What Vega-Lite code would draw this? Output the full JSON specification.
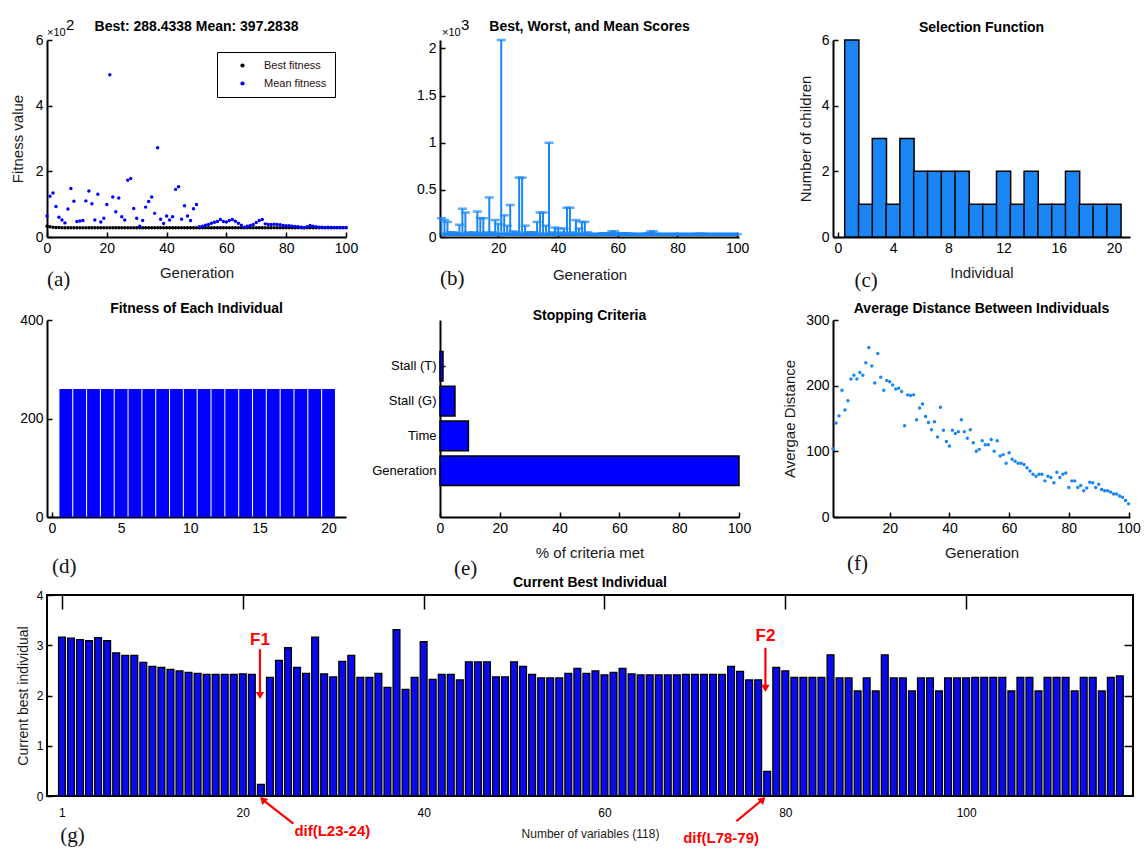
{
  "$schema": "https://vega.github.io/schema/vega-lite/v6.json",
  "background": "white",
  "padding": {"left": 10, "top": 18, "right": 5, "bottom": 2},
  "config": {
    "font": "Liberation Sans",
    "view": {"stroke": null},
    "axis": {"grid": false, "domainColor": "black", "domainWidth": 2, "tickColor": "black", "tickWidth": 1.5, "tickSize": -5, "labelColor": "black", "labelFontSize": 14, "labelPadding": 9, "titleColor": "#1a1a1a", "titleFontSize": 15, "titleFontWeight": "normal", "labelFlush": false, "labelOverlap": false},
    "title": {"fontSize": 14, "fontWeight": "bold", "color": "black", "offset": 7}
  },
  "datasets": {
    "fitness": [
      {"gen":0,"best":0.33,"mean":0.64},{"gen":1,"best":0.31,"mean":1.24},{"gen":2,"best":0.30,"mean":1.34},{"gen":3,"best":0.29,"mean":0.93},{"gen":4,"best":0.29,"mean":0.60},{"gen":5,"best":0.28,"mean":0.52},{"gen":6,"best":0.28,"mean":0.43},{"gen":7,"best":0.28,"mean":0.85},{"gen":8,"best":0.28,"mean":1.48},{"gen":9,"best":0.28,"mean":1.09},
      {"gen":10,"best":0.28,"mean":0.47},{"gen":11,"best":0.28,"mean":0.49},{"gen":12,"best":0.28,"mean":0.50},{"gen":13,"best":0.28,"mean":1.10},{"gen":14,"best":0.28,"mean":1.40},{"gen":15,"best":0.28,"mean":1.01},{"gen":16,"best":0.28,"mean":0.52},{"gen":17,"best":0.28,"mean":1.30},{"gen":18,"best":0.28,"mean":0.46},{"gen":19,"best":0.28,"mean":0.57},
      {"gen":20,"best":0.28,"mean":0.99},{"gen":21,"best":0.28,"mean":4.94},{"gen":22,"best":0.28,"mean":1.22},{"gen":23,"best":0.28,"mean":0.77},{"gen":24,"best":0.28,"mean":1.19},{"gen":25,"best":0.28,"mean":0.62},{"gen":26,"best":0.28,"mean":0.52},{"gen":27,"best":0.28,"mean":1.73},{"gen":28,"best":0.28,"mean":1.78},{"gen":29,"best":0.28,"mean":0.87},
      {"gen":30,"best":0.28,"mean":0.57},{"gen":31,"best":0.28,"mean":0.33},{"gen":32,"best":0.28,"mean":0.50},{"gen":33,"best":0.28,"mean":0.91},{"gen":34,"best":0.28,"mean":1.08},{"gen":35,"best":0.28,"mean":1.22},{"gen":36,"best":0.28,"mean":0.72},{"gen":37,"best":0.28,"mean":2.72},{"gen":38,"best":0.28,"mean":0.54},{"gen":39,"best":0.28,"mean":0.41},
      {"gen":40,"best":0.28,"mean":0.64},{"gen":41,"best":0.28,"mean":0.52},{"gen":42,"best":0.28,"mean":0.62},{"gen":43,"best":0.28,"mean":1.45},{"gen":44,"best":0.28,"mean":1.53},{"gen":45,"best":0.28,"mean":0.54},{"gen":46,"best":0.28,"mean":0.95},{"gen":47,"best":0.28,"mean":0.64},{"gen":48,"best":0.28,"mean":0.50},{"gen":49,"best":0.28,"mean":0.86},
      {"gen":50,"best":0.28,"mean":0.99},{"gen":51,"best":0.28,"mean":0.31},{"gen":52,"best":0.28,"mean":0.33},{"gen":53,"best":0.28,"mean":0.36},{"gen":54,"best":0.28,"mean":0.38},{"gen":55,"best":0.28,"mean":0.42},{"gen":56,"best":0.28,"mean":0.45},{"gen":57,"best":0.28,"mean":0.47},{"gen":58,"best":0.28,"mean":0.53},{"gen":59,"best":0.28,"mean":0.47},
      {"gen":60,"best":0.28,"mean":0.46},{"gen":61,"best":0.28,"mean":0.50},{"gen":62,"best":0.28,"mean":0.53},{"gen":63,"best":0.28,"mean":0.48},{"gen":64,"best":0.28,"mean":0.42},{"gen":65,"best":0.28,"mean":0.36},{"gen":66,"best":0.28,"mean":0.30},{"gen":67,"best":0.28,"mean":0.33},{"gen":68,"best":0.28,"mean":0.35},{"gen":69,"best":0.28,"mean":0.38},
      {"gen":70,"best":0.28,"mean":0.44},{"gen":71,"best":0.28,"mean":0.50},{"gen":72,"best":0.28,"mean":0.53},{"gen":73,"best":0.28,"mean":0.40},{"gen":74,"best":0.28,"mean":0.38},{"gen":75,"best":0.28,"mean":0.38},{"gen":76,"best":0.28,"mean":0.39},{"gen":77,"best":0.28,"mean":0.38},{"gen":78,"best":0.28,"mean":0.37},{"gen":79,"best":0.28,"mean":0.35},
      {"gen":80,"best":0.28,"mean":0.34},{"gen":81,"best":0.28,"mean":0.34},{"gen":82,"best":0.28,"mean":0.33},{"gen":83,"best":0.28,"mean":0.32},{"gen":84,"best":0.28,"mean":0.31},{"gen":85,"best":0.28,"mean":0.30},{"gen":86,"best":0.28,"mean":0.28},{"gen":87,"best":0.28,"mean":0.31},{"gen":88,"best":0.28,"mean":0.35},{"gen":89,"best":0.28,"mean":0.33},
      {"gen":90,"best":0.28,"mean":0.31},{"gen":91,"best":0.28,"mean":0.30},{"gen":92,"best":0.28,"mean":0.30},{"gen":93,"best":0.28,"mean":0.29},{"gen":94,"best":0.28,"mean":0.30},{"gen":95,"best":0.28,"mean":0.29},{"gen":96,"best":0.28,"mean":0.29},{"gen":97,"best":0.28,"mean":0.29},{"gen":98,"best":0.28,"mean":0.29},{"gen":99,"best":0.28,"mean":0.29},{"gen":100,"best":0.28,"mean":0.29}
    ],
    "scores": [
      {"gen":1,"best":0.029,"worst":0.20},{"gen":2,"best":0.029,"worst":0.18},{"gen":3,"best":0.029,"worst":0.16},{"gen":4,"best":0.029,"worst":0.05},{"gen":5,"best":0.029,"worst":0.05},{"gen":6,"best":0.029,"worst":0.04},{"gen":7,"best":0.029,"worst":0.13},{"gen":8,"best":0.029,"worst":0.30},{"gen":9,"best":0.029,"worst":0.26},{"gen":10,"best":0.029,"worst":0.05},
      {"gen":11,"best":0.029,"worst":0.03},{"gen":12,"best":0.029,"worst":0.05},{"gen":13,"best":0.029,"worst":0.27},{"gen":14,"best":0.029,"worst":0.20},{"gen":15,"best":0.029,"worst":0.20},{"gen":16,"best":0.029,"worst":0.05},{"gen":17,"best":0.029,"worst":0.42},{"gen":18,"best":0.029,"worst":0.05},{"gen":19,"best":0.029,"worst":0.18},{"gen":20,"best":0.029,"worst":0.14},
      {"gen":21,"best":0.029,"worst":2.09},{"gen":22,"best":0.029,"worst":0.23},{"gen":23,"best":0.029,"worst":0.12},{"gen":24,"best":0.029,"worst":0.34},{"gen":25,"best":0.029,"worst":0.06},{"gen":26,"best":0.029,"worst":0.05},{"gen":27,"best":0.029,"worst":0.63},{"gen":28,"best":0.029,"worst":0.63},{"gen":29,"best":0.029,"worst":0.12},{"gen":30,"best":0.029,"worst":0.05},
      {"gen":31,"best":0.029,"worst":0.05},{"gen":32,"best":0.029,"worst":0.05},{"gen":33,"best":0.029,"worst":0.16},{"gen":34,"best":0.029,"worst":0.26},{"gen":35,"best":0.029,"worst":0.26},{"gen":36,"best":0.029,"worst":0.12},{"gen":37,"best":0.029,"worst":1.00},{"gen":38,"best":0.029,"worst":0.05},{"gen":39,"best":0.029,"worst":0.10},{"gen":40,"best":0.029,"worst":0.09},
      {"gen":41,"best":0.029,"worst":0.05},{"gen":42,"best":0.029,"worst":0.09},{"gen":43,"best":0.029,"worst":0.31},{"gen":44,"best":0.029,"worst":0.31},{"gen":45,"best":0.029,"worst":0.05},{"gen":46,"best":0.029,"worst":0.18},{"gen":47,"best":0.029,"worst":0.09},{"gen":48,"best":0.029,"worst":0.16},{"gen":49,"best":0.029,"worst":0.16},{"gen":50,"best":0.029,"worst":0.05},
      {"gen":51,"best":0.029,"worst":0.03},{"gen":52,"best":0.029,"worst":0.03},{"gen":53,"best":0.029,"worst":0.03},{"gen":54,"best":0.029,"worst":0.03},{"gen":55,"best":0.029,"worst":0.04},{"gen":56,"best":0.029,"worst":0.04},{"gen":57,"best":0.029,"worst":0.04},{"gen":58,"best":0.029,"worst":0.06},{"gen":59,"best":0.029,"worst":0.06},{"gen":60,"best":0.029,"worst":0.04},
      {"gen":61,"best":0.029,"worst":0.035},{"gen":62,"best":0.029,"worst":0.04},{"gen":63,"best":0.029,"worst":0.04},{"gen":64,"best":0.029,"worst":0.035},{"gen":65,"best":0.029,"worst":0.03},{"gen":66,"best":0.029,"worst":0.03},{"gen":67,"best":0.029,"worst":0.03},{"gen":68,"best":0.029,"worst":0.03},{"gen":69,"best":0.029,"worst":0.03},{"gen":70,"best":0.029,"worst":0.04},
      {"gen":71,"best":0.029,"worst":0.06},{"gen":72,"best":0.029,"worst":0.06},{"gen":73,"best":0.029,"worst":0.03},{"gen":74,"best":0.029,"worst":0.03},{"gen":75,"best":0.029,"worst":0.03},{"gen":76,"best":0.029,"worst":0.03},{"gen":77,"best":0.029,"worst":0.03},{"gen":78,"best":0.029,"worst":0.03},{"gen":79,"best":0.029,"worst":0.03},{"gen":80,"best":0.029,"worst":0.03},
      {"gen":81,"best":0.029,"worst":0.03},{"gen":82,"best":0.029,"worst":0.03},{"gen":83,"best":0.029,"worst":0.03},{"gen":84,"best":0.029,"worst":0.03},{"gen":85,"best":0.029,"worst":0.03},{"gen":86,"best":0.029,"worst":0.03},{"gen":87,"best":0.029,"worst":0.035},{"gen":88,"best":0.029,"worst":0.035},{"gen":89,"best":0.029,"worst":0.03},{"gen":90,"best":0.029,"worst":0.03},
      {"gen":91,"best":0.029,"worst":0.03},{"gen":92,"best":0.029,"worst":0.03},{"gen":93,"best":0.029,"worst":0.03},{"gen":94,"best":0.029,"worst":0.03},{"gen":95,"best":0.029,"worst":0.03},{"gen":96,"best":0.029,"worst":0.03},{"gen":97,"best":0.029,"worst":0.03},{"gen":98,"best":0.029,"worst":0.03},{"gen":99,"best":0.029,"worst":0.03},{"gen":100,"best":0.029,"worst":0.03}
    ],
    "selection": [
      {"individual":1,"children":6},{"individual":2,"children":1},{"individual":3,"children":3},{"individual":4,"children":1},{"individual":5,"children":3},{"individual":6,"children":2},{"individual":7,"children":2},{"individual":8,"children":2},{"individual":9,"children":2},{"individual":10,"children":1},
      {"individual":11,"children":1},{"individual":12,"children":2},{"individual":13,"children":1},{"individual":14,"children":2},{"individual":15,"children":1},{"individual":16,"children":1},{"individual":17,"children":2},{"individual":18,"children":1},{"individual":19,"children":1},{"individual":20,"children":1}
    ],
    "eachfit": [
      {"individual":1,"fitness":260},{"individual":2,"fitness":260},{"individual":3,"fitness":260},{"individual":4,"fitness":260},{"individual":5,"fitness":260},{"individual":6,"fitness":260},{"individual":7,"fitness":260},{"individual":8,"fitness":260},{"individual":9,"fitness":260},{"individual":10,"fitness":260},
      {"individual":11,"fitness":260},{"individual":12,"fitness":260},{"individual":13,"fitness":260},{"individual":14,"fitness":260},{"individual":15,"fitness":260},{"individual":16,"fitness":260},{"individual":17,"fitness":260},{"individual":18,"fitness":260},{"individual":19,"fitness":260},{"individual":20,"fitness":260}
    ],
    "stopping": [
      {"criterion":"Stall (T)","pct":1},{"criterion":"Stall (G)","pct":5},{"criterion":"Time","pct":9.5},{"criterion":"Generation","pct":100}
    ],
    "distance": [
      {"gen":1,"d":104},{"gen":2,"d":143},{"gen":3,"d":154},{"gen":4,"d":193},{"gen":5,"d":163},{"gen":6,"d":177},{"gen":7,"d":210},{"gen":8,"d":216},{"gen":9,"d":210},{"gen":10,"d":220},
      {"gen":11,"d":216},{"gen":12,"d":235},{"gen":13,"d":258},{"gen":14,"d":230},{"gen":15,"d":204},{"gen":16,"d":249},{"gen":17,"d":213},{"gen":18,"d":193},{"gen":19,"d":208},{"gen":20,"d":206},
      {"gen":21,"d":201},{"gen":22,"d":195},{"gen":23,"d":196},{"gen":24,"d":191},{"gen":25,"d":139},{"gen":26,"d":186},{"gen":27,"d":185},{"gen":28,"d":186},{"gen":29,"d":148},{"gen":30,"d":166},
      {"gen":31,"d":172},{"gen":32,"d":153},{"gen":33,"d":144},{"gen":34,"d":133},{"gen":35,"d":145},{"gen":36,"d":122},{"gen":37,"d":167},{"gen":38,"d":132},{"gen":39,"d":115},{"gen":40,"d":108},
      {"gen":41,"d":132},{"gen":42,"d":127},{"gen":43,"d":130},{"gen":44,"d":148},{"gen":45,"d":130},{"gen":46,"d":120},{"gen":47,"d":133},{"gen":48,"d":113},{"gen":49,"d":100},{"gen":50,"d":103},
      {"gen":51,"d":116},{"gen":52,"d":110},{"gen":53,"d":110},{"gen":54,"d":118},{"gen":55,"d":100},{"gen":56,"d":116},{"gen":57,"d":93},{"gen":58,"d":95},{"gen":59,"d":82},{"gen":60,"d":98},
      {"gen":61,"d":88},{"gen":62,"d":85},{"gen":63,"d":82},{"gen":64,"d":82},{"gen":65,"d":80},{"gen":66,"d":75},{"gen":67,"d":70},{"gen":68,"d":65},{"gen":69,"d":62},{"gen":70,"d":65},
      {"gen":71,"d":65},{"gen":72,"d":55},{"gen":73,"d":62},{"gen":74,"d":60},{"gen":75,"d":52},{"gen":76,"d":68},{"gen":77,"d":60},{"gen":78,"d":65},{"gen":79,"d":67},{"gen":80,"d":45},
      {"gen":81,"d":55},{"gen":82,"d":55},{"gen":83,"d":45},{"gen":84,"d":48},{"gen":85,"d":40},{"gen":86,"d":44},{"gen":87,"d":53},{"gen":88,"d":52},{"gen":89,"d":45},{"gen":90,"d":50},
      {"gen":91,"d":42},{"gen":92,"d":40},{"gen":93,"d":40},{"gen":94,"d":38},{"gen":95,"d":35},{"gen":96,"d":35},{"gen":97,"d":32},{"gen":98,"d":30},{"gen":99,"d":25},{"gen":100,"d":20}
    ],
    "bestind": [
      {"variable":0,"value":3.16},{"variable":1,"value":3.14},{"variable":2,"value":3.11},{"variable":3,"value":3.09},{"variable":4,"value":3.15},{"variable":5,"value":3.09},{"variable":6,"value":2.85},{"variable":7,"value":2.80},{"variable":8,"value":2.80},{"variable":9,"value":2.66},
      {"variable":10,"value":2.58},{"variable":11,"value":2.56},{"variable":12,"value":2.52},{"variable":13,"value":2.49},{"variable":14,"value":2.46},{"variable":15,"value":2.44},{"variable":16,"value":2.42},{"variable":17,"value":2.42},{"variable":18,"value":2.42},{"variable":19,"value":2.42},
      {"variable":20,"value":2.43},{"variable":21,"value":2.42},{"variable":22,"value":0.23},{"variable":23,"value":2.36},{"variable":24,"value":2.70},{"variable":25,"value":2.95},{"variable":26,"value":2.56},{"variable":27,"value":2.44},{"variable":28,"value":3.16},{"variable":29,"value":2.43},
      {"variable":30,"value":2.37},{"variable":31,"value":2.68},{"variable":32,"value":2.80},{"variable":33,"value":2.36},{"variable":34,"value":2.36},{"variable":35,"value":2.44},{"variable":36,"value":2.16},{"variable":37,"value":3.31},{"variable":38,"value":2.12},{"variable":39,"value":2.36},
      {"variable":40,"value":3.07},{"variable":41,"value":2.32},{"variable":42,"value":2.42},{"variable":43,"value":2.42},{"variable":44,"value":2.31},{"variable":45,"value":2.67},{"variable":46,"value":2.67},{"variable":47,"value":2.67},{"variable":48,"value":2.37},{"variable":49,"value":2.37},
      {"variable":50,"value":2.67},{"variable":51,"value":2.58},{"variable":52,"value":2.42},{"variable":53,"value":2.35},{"variable":54,"value":2.35},{"variable":55,"value":2.35},{"variable":56,"value":2.44},{"variable":57,"value":2.54},{"variable":58,"value":2.44},{"variable":59,"value":2.49},
      {"variable":60,"value":2.41},{"variable":61,"value":2.46},{"variable":62,"value":2.54},{"variable":63,"value":2.43},{"variable":64,"value":2.41},{"variable":65,"value":2.41},{"variable":66,"value":2.41},{"variable":67,"value":2.41},{"variable":68,"value":2.41},{"variable":69,"value":2.42},
      {"variable":70,"value":2.42},{"variable":71,"value":2.42},{"variable":72,"value":2.42},{"variable":73,"value":2.42},{"variable":74,"value":2.58},{"variable":75,"value":2.48},{"variable":76,"value":2.31},{"variable":77,"value":2.31},{"variable":78,"value":0.49},{"variable":79,"value":2.56},
      {"variable":80,"value":2.49},{"variable":81,"value":2.36},{"variable":82,"value":2.36},{"variable":83,"value":2.36},{"variable":84,"value":2.36},{"variable":85,"value":2.81},{"variable":86,"value":2.35},{"variable":87,"value":2.35},{"variable":88,"value":2.09},{"variable":89,"value":2.35},
      {"variable":90,"value":2.09},{"variable":91,"value":2.81},{"variable":92,"value":2.35},{"variable":93,"value":2.35},{"variable":94,"value":2.09},{"variable":95,"value":2.35},{"variable":96,"value":2.35},{"variable":97,"value":2.09},{"variable":98,"value":2.35},{"variable":99,"value":2.35},
      {"variable":100,"value":2.35},{"variable":101,"value":2.36},{"variable":102,"value":2.36},{"variable":103,"value":2.36},{"variable":104,"value":2.36},{"variable":105,"value":2.09},{"variable":106,"value":2.36},{"variable":107,"value":2.36},{"variable":108,"value":2.09},{"variable":109,"value":2.36},
      {"variable":110,"value":2.36},{"variable":111,"value":2.36},{"variable":112,"value":2.09},{"variable":113,"value":2.36},{"variable":114,"value":2.36},{"variable":115,"value":2.09},{"variable":116,"value":2.36},{"variable":117,"value":2.39}
    ]
  },
  "spacing": -4,
  "vconcat": [
    {
      "spacing": 11,
      "vconcat": [
        {
          "hconcat": [
            {
              "width": 299, "height": 197,
              "title": {"text": "Best: 288.4338 Mean: 397.2838", "offset": -16},
              "layer": [
                {
                  "data": {"name": "fitness"},
                  "transform": [{"fold": ["best", "mean"], "as": ["series", "val"]}],
                  "mark": {"type": "point", "filled": true, "size": 12, "opacity": 1},
                  "encoding": {
                    "x": {"field": "gen", "type": "quantitative", "scale": {"domain": [0, 100], "nice": false}, "axis": {"values": [0, 20, 40, 60, 80, 100], "title": "Generation", "titlePadding": 10}},
                    "y": {"field": "val", "type": "quantitative", "scale": {"domain": [0, 6], "nice": false}, "axis": {"values": [0, 2, 4, 6], "title": "Fitness value", "titlePadding": 10}},
                    "color": {"field": "series", "type": "nominal", "scale": {"domain": ["best", "mean"], "range": ["#000000", "#0000ff"]},
                      "legend": {"orient": "none", "legendX": 170, "legendY": 12, "title": null, "strokeColor": "black", "fillColor": "white", "padding": 8, "symbolType": "circle", "symbolSize": 18, "labelFontSize": 11, "labelColor": "#2a1010", "rowPadding": 6, "symbolOffset": 12, "labelOffset": 16,
                        "labelExpr": "datum.label == 'best' ? 'Best fitness' : 'Mean fitness'"}}
                  }
                },
                {"data": {"values": [{}]}, "mark": {"type": "text", "align": "left", "baseline": "alphabetic", "fontSize": 11, "dy": -4}, "encoding": {"x": {"datum": 0}, "y": {"datum": 6}, "text": {"value": "×10"}}},
                {"data": {"values": [{}]}, "mark": {"type": "text", "align": "left", "baseline": "alphabetic", "fontSize": 15, "dx": 19, "dy": -10}, "encoding": {"x": {"datum": 0}, "y": {"datum": 6}, "text": {"value": "2"}}},
                {"data": {"values": [{}]}, "mark": {"type": "text", "align": "left", "baseline": "middle", "font": "Liberation Serif", "fontSize": 21, "color": "#111"}, "encoding": {"x": {"datum": 0}, "y": {"datum": -1.3}, "text": {"value": "(a)"}}}
              ]
            },
            {
              "width": 299, "height": 197,
              "title": {"text": "Best, Worst, and Mean Scores", "offset": -16},
              "layer": [
                {
                  "data": {"name": "scores"},
                  "mark": {"type": "rule", "color": "#1a86f5", "strokeWidth": 2},
                  "encoding": {
                    "x": {"field": "gen", "type": "quantitative", "scale": {"domain": [0.5, 100.6], "nice": false}, "axis": {"values": [20, 40, 60, 80, 100], "title": "Generation", "titlePadding": 12}},
                    "y": {"field": "best", "type": "quantitative", "scale": {"domain": [0, 2.09], "nice": false}, "axis": {"values": [0, 0.5, 1, 1.5, 2], "format": "~g", "title": null}},
                    "y2": {"field": "worst"}
                  }
                },
                {
                  "data": {"name": "scores"},
                  "mark": {"type": "tick", "orient": "horizontal", "color": "#1a86f5", "size": 9, "thickness": 2.5},
                  "encoding": {"x": {"field": "gen", "type": "quantitative"}, "y": {"field": "worst", "type": "quantitative"}}
                },
                {
                  "data": {"name": "scores"},
                  "mark": {"type": "line", "color": "#1a86f5", "strokeWidth": 3.5},
                  "encoding": {"x": {"field": "gen", "type": "quantitative"}, "y": {"field": "best", "type": "quantitative"}}
                },
                {"data": {"values": [{}]}, "mark": {"type": "text", "align": "left", "baseline": "alphabetic", "fontSize": 11, "dx": 2, "dy": -4}, "encoding": {"x": {"datum": 0.5}, "y": {"datum": 2.09}, "text": {"value": "×10"}}},
                {"data": {"values": [{}]}, "mark": {"type": "text", "align": "left", "baseline": "alphabetic", "fontSize": 15, "dx": 21, "dy": -10}, "encoding": {"x": {"datum": 0.5}, "y": {"datum": 2.09}, "text": {"value": "3"}}},
                {"data": {"values": [{}]}, "mark": {"type": "text", "align": "left", "baseline": "middle", "font": "Liberation Serif", "fontSize": 21, "color": "#111"}, "encoding": {"x": {"datum": 0.5}, "y": {"datum": -0.45}, "text": {"value": "(b)"}}}
              ]
            },
            {
              "width": 297, "height": 197,
              "title": {"text": "Selection Function", "offset": -2},
              "layer": [
                {
                  "data": {"name": "selection"},
                  "mark": {"type": "bar", "width": 14.2, "color": "#1a86f5", "stroke": "black", "strokeWidth": 1.5},
                  "encoding": {
                    "x": {"field": "individual", "type": "quantitative", "scale": {"domain": [0, 20.8], "nice": false}, "axis": {"values": [0, 2, 4, 6, 8, 10, 12, 14, 16, 18, 20], "title": "Individual", "titlePadding": 10}},
                    "y": {"field": "children", "type": "quantitative", "scale": {"domain": [0, 6], "nice": false}, "axis": {"values": [0, 2, 4, 6], "title": "Number of children", "titlePadding": 8}}
                  }
                },
                {"data": {"values": [{}]}, "mark": {"type": "text", "align": "left", "baseline": "middle", "font": "Liberation Serif", "fontSize": 21, "color": "#111"}, "encoding": {"x": {"datum": 1.2}, "y": {"datum": -1.34}, "text": {"value": "(c)"}}}
              ]
            }
          ],
          "spacing": 94,
          "bounds": "flush"
        },
        {
          "hconcat": [
            {
              "width": 299, "height": 197,
              "title": {"text": "Fitness of Each Individual", "offset": -3},
              "layer": [
                {
                  "data": {"name": "eachfit"},
                  "mark": {"type": "bar", "width": 12.8, "color": "#0000ff"},
                  "encoding": {
                    "x": {"field": "individual", "type": "quantitative", "scale": {"domain": [0, 20.9], "nice": false}, "axis": {"values": [0, 5, 10, 15, 20], "title": null}},
                    "y": {"field": "fitness", "type": "quantitative", "scale": {"domain": [0, 400], "nice": false}, "axis": {"values": [0, 200, 400], "title": null}}
                  }
                },
                {"data": {"values": [{}]}, "mark": {"type": "text", "align": "left", "baseline": "middle", "font": "Liberation Serif", "fontSize": 21, "color": "#111"}, "encoding": {"x": {"datum": 0}, "y": {"datum": -101}, "text": {"value": "(d)"}}}
              ]
            },
            {
              "width": 299, "height": 197,
              "title": {"text": "Stopping Criteria", "offset": -3},
              "layer": [
                {
                  "data": {"name": "stopping"},
                  "mark": {"type": "bar", "color": "#0000ff", "stroke": "black", "strokeWidth": 1.5},
                  "encoding": {
                    "x": {"field": "pct", "type": "quantitative", "scale": {"domain": [0, 100], "nice": false}, "axis": {"values": [0, 20, 40, 60, 80, 100], "title": "% of criteria met", "titlePadding": 10}},
                    "y": {"field": "criterion", "type": "nominal", "sort": ["Stall (T)", "Stall (G)", "Time", "Generation"], "scale": {"paddingInner": 0.15, "paddingOuter": 0.9}, "axis": {"title": null, "labelFontSize": 13}}
                  }
                },
                {"data": {"values": [{}]}, "mark": {"type": "text", "align": "left", "baseline": "middle", "font": "Liberation Serif", "fontSize": 21, "color": "#111", "dy": 98}, "encoding": {"x": {"datum": 4.7}, "y": {"datum": "Generation", "type": "nominal", "bandPosition": 0.5}, "text": {"value": "(e)"}}}
              ]
            },
            {
              "width": 297, "height": 197,
              "title": {"text": "Average Distance Between Individuals", "offset": -3},
              "layer": [
                {
                  "data": {"name": "distance"},
                  "mark": {"type": "point", "filled": true, "size": 12, "opacity": 1, "color": "#1a86f5"},
                  "encoding": {
                    "x": {"field": "gen", "type": "quantitative", "scale": {"domain": [1, 100.5], "nice": false}, "axis": {"values": [20, 40, 60, 80, 100], "title": "Generation", "titlePadding": 10}},
                    "y": {"field": "d", "type": "quantitative", "scale": {"domain": [0, 300], "nice": false}, "axis": {"values": [0, 100, 200, 300], "title": "Avergae Distance", "titlePadding": 8}}
                  }
                },
                {"data": {"values": [{}]}, "mark": {"type": "text", "align": "left", "baseline": "middle", "font": "Liberation Serif", "fontSize": 21, "color": "#111"}, "encoding": {"x": {"datum": 5.7}, "y": {"datum": -71}, "text": {"value": "(f)"}}}
              ]
            }
          ],
          "spacing": 94,
          "bounds": "flush"
        }
      ]
    },
    {
      "width": 1086, "height": 201,
      "title": {"text": "Current Best Individual", "offset": -1},
      "view": {"stroke": "black", "strokeWidth": 2},
      "resolve": {"axis": {"x": "independent", "y": "independent"}},
      "layer": [
        {
          "data": {"name": "bestind"},
          "mark": {"type": "bar", "width": 6.8, "color": "#0a0aee", "stroke": "black", "strokeWidth": 1.3},
          "encoding": {
            "x": {"field": "variable", "type": "quantitative", "scale": {"domain": [-1.1, 117.9], "nice": false},
              "axis": {"values": [0, 20, 40, 60, 80, 100], "labelExpr": "datum.value == 0 ? '1' : datum.label", "title": "Number of variables (118)", "titleFontSize": 12, "labelFontSize": 12, "domain": false, "tickSize": -10, "labelPadding": 21, "titlePadding": 10}},
            "y": {"field": "value", "type": "quantitative", "scale": {"domain": [0, 4], "nice": false},
              "axis": {"values": [0, 1, 2, 3, 4], "title": "Current best individual", "titleFontSize": 14, "labelFontSize": 12, "domain": false, "tickSize": -5, "labelPadding": 9, "titlePadding": 6}}
          }
        },
        {
          "data": {"values": [{"pos": 21.9, "level": 3.1, "label": "F1"}, {"pos": 77.8, "level": 3.18, "label": "F2"}]},
          "mark": {"type": "text", "color": "#ff0000", "fontWeight": "bold", "fontSize": 17, "baseline": "middle"},
          "encoding": {
            "x": {"field": "pos", "type": "quantitative", "axis": {"orient": "top", "values": [0, 20, 40, 60, 80, 100], "labels": false, "domain": false, "tickSize": -14, "title": null, "minExtent": 0, "maxExtent": 0, "labelPadding": 0}},
            "y": {"field": "level", "type": "quantitative", "axis": {"orient": "right", "values": [1, 2, 3], "labels": false, "domain": false, "tickSize": -9, "title": null, "minExtent": 0, "maxExtent": 0, "labelPadding": 0}},
            "text": {"field": "label"}
          }
        },
        {
          "data": {"values": [{"x1": 21.9, "y1": 2.92, "x2": 21.9, "y2": 2.05}, {"x1": 77.8, "y1": 2.95, "x2": 77.8, "y2": 2.2}, {"x1": 25.6, "y1": -0.55, "x2": 22.4, "y2": -0.1}, {"x1": 74.6, "y1": -0.5, "x2": 77.3, "y2": -0.1}]},
          "mark": {"type": "rule", "color": "#ff0000", "strokeWidth": 2.2},
          "encoding": {
            "x": {"field": "x1", "type": "quantitative", "axis": null}, "y": {"field": "y1", "type": "quantitative", "axis": null},
            "x2": {"field": "x2"}, "y2": {"field": "y2"}
          }
        },
        {
          "data": {"values": [{"x": 21.9, "y": 2.0}, {"x": 77.8, "y": 2.14}]},
          "mark": {"type": "point", "shape": "triangle-down", "filled": true, "color": "#ff0000", "size": 70, "opacity": 1},
          "encoding": {"x": {"field": "x", "type": "quantitative", "axis": null}, "y": {"field": "y", "type": "quantitative", "axis": null}}
        },
        {
          "data": {"values": [{"x": 22.2, "y": -0.07}]},
          "mark": {"type": "point", "shape": "triangle-up", "angle": 315, "filled": true, "color": "#ff0000", "size": 70, "opacity": 1},
          "encoding": {"x": {"field": "x", "type": "quantitative", "axis": null}, "y": {"field": "y", "type": "quantitative", "axis": null}}
        },
        {
          "data": {"values": [{"x": 77.5, "y": -0.07}]},
          "mark": {"type": "point", "shape": "triangle-up", "angle": 45, "filled": true, "color": "#ff0000", "size": 70, "opacity": 1},
          "encoding": {"x": {"field": "x", "type": "quantitative", "axis": null}, "y": {"field": "y", "type": "quantitative", "axis": null}}
        },
        {
          "data": {"values": [{"x": 29.9, "y": -0.7, "label": "dif(L23-24)"}, {"x": 72.9, "y": -0.84, "label": "dif(L78-79)"}]},
          "mark": {"type": "text", "color": "#ff0000", "fontWeight": "bold", "fontSize": 15, "baseline": "middle"},
          "encoding": {"x": {"field": "x", "type": "quantitative", "axis": null}, "y": {"field": "y", "type": "quantitative", "axis": null}, "text": {"field": "label"}}
        },
        {"data": {"values": [{}]}, "mark": {"type": "text", "align": "left", "baseline": "middle", "font": "Liberation Serif", "fontSize": 21, "color": "#111"}, "encoding": {"x": {"datum": -0.2, "axis": null}, "y": {"datum": -0.8, "axis": null}, "text": {"value": "(g)"}}}
      ]
    }
  ]
}
